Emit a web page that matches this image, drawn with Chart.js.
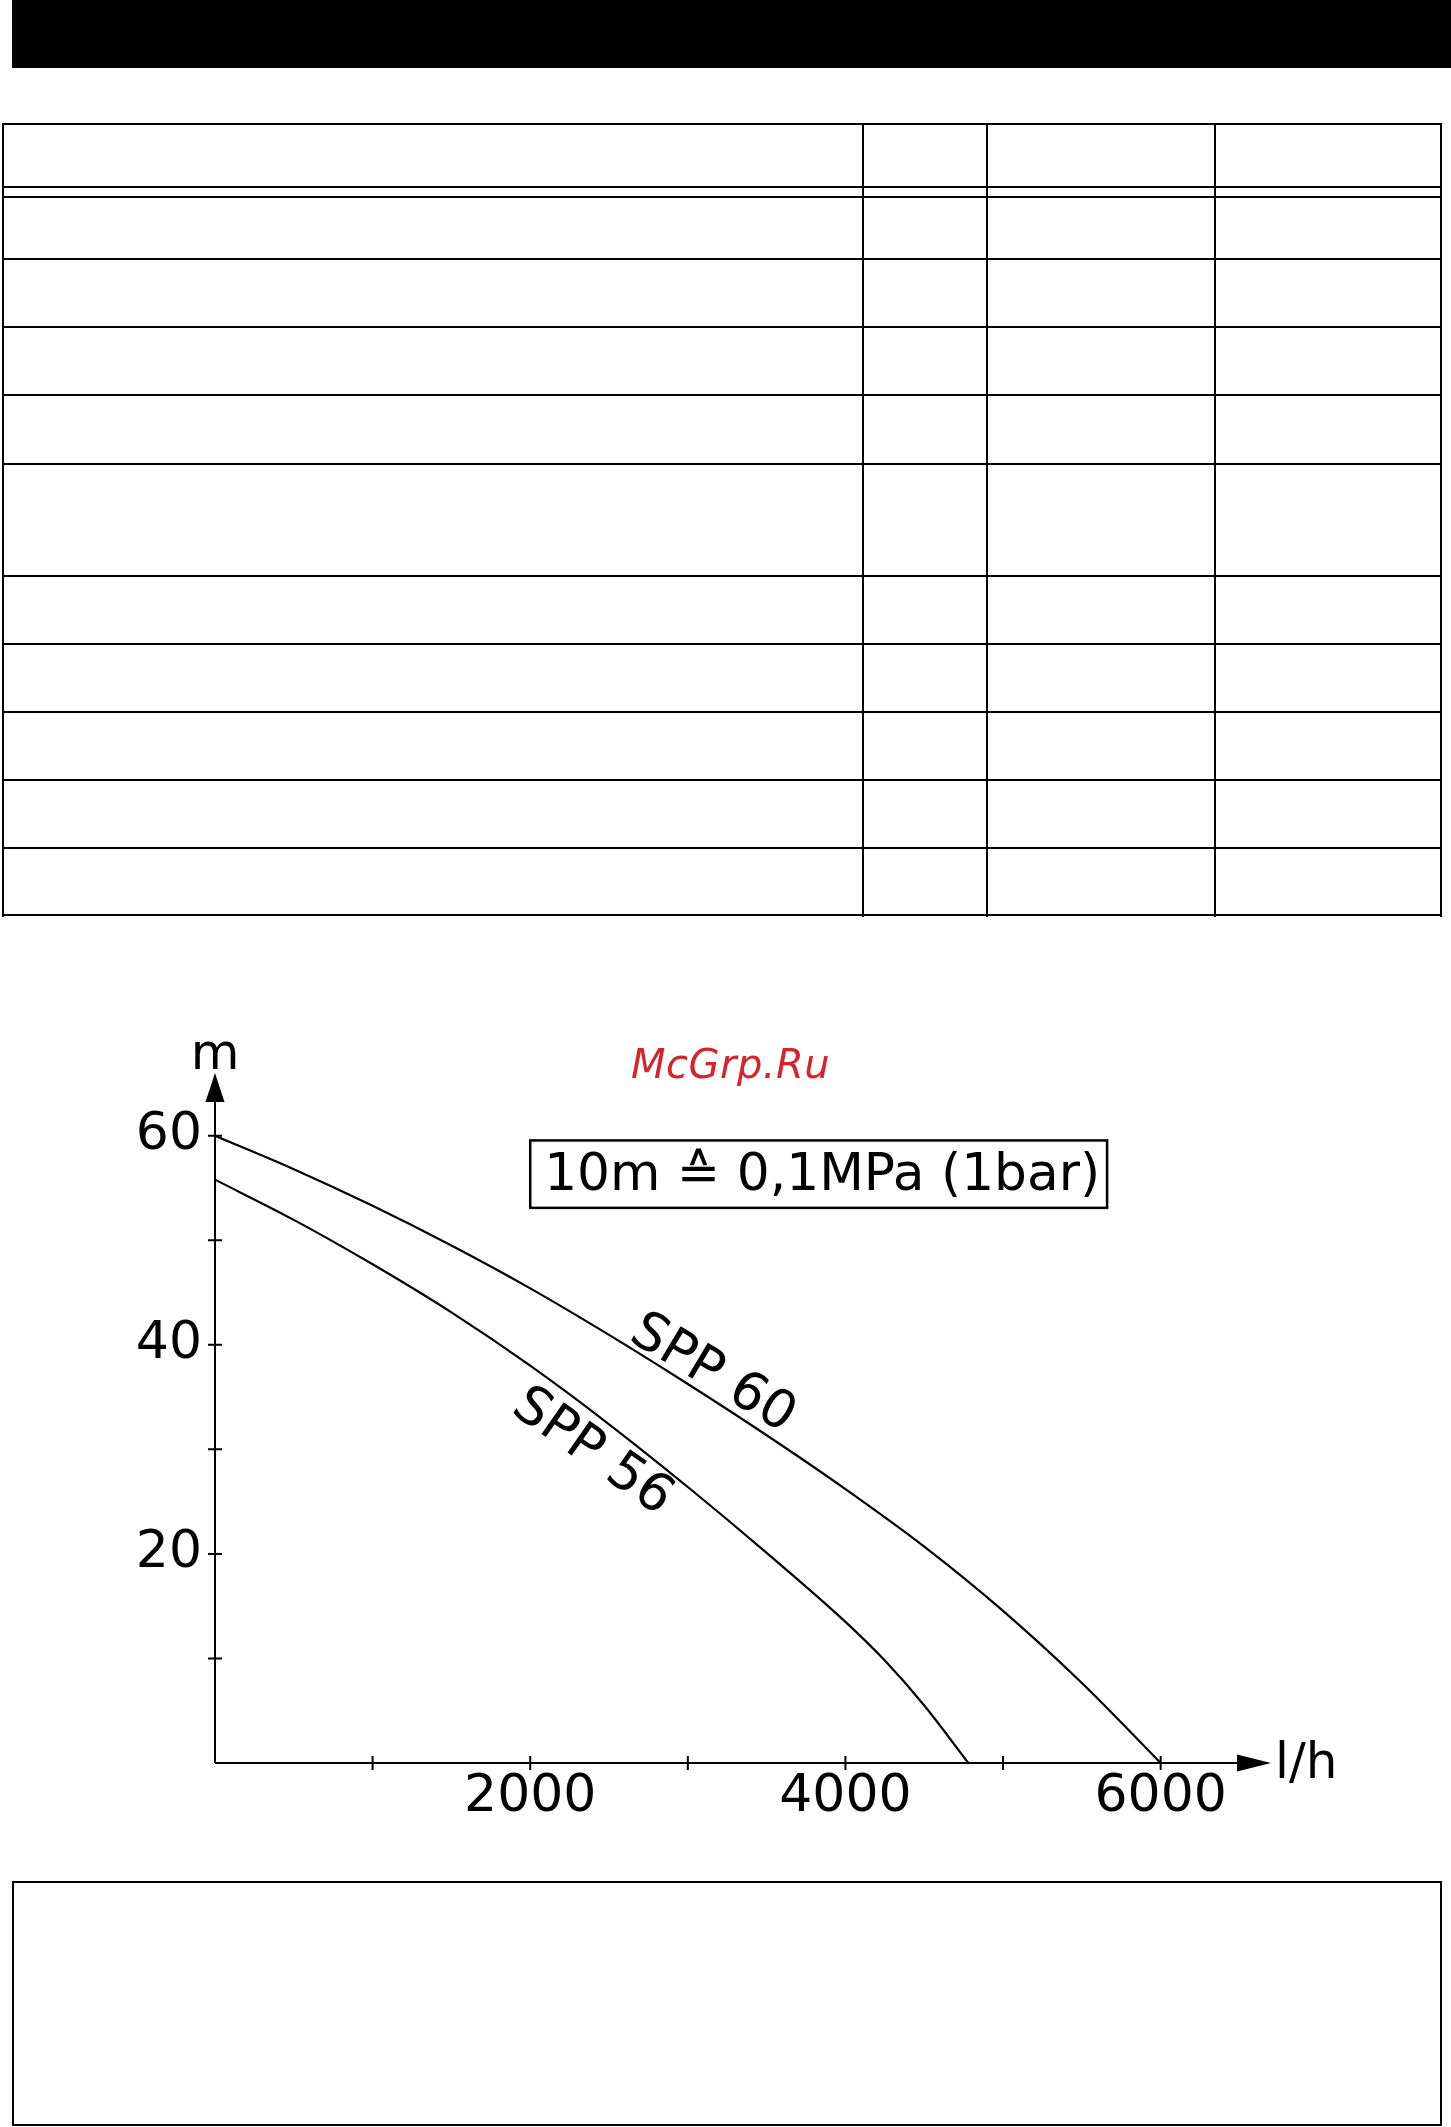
<!DOCTYPE html>
<html>
<head>
<meta charset="utf-8">
<script src="https://cdn.jsdelivr.net/npm/chart.js@4.4.1/dist/chart.umd.min.js"></script>
<style>
html,body{margin:0;padding:0;background:#fff;}
body{width:1451px;height:2127px;position:relative;overflow:hidden;}
#bar{position:absolute;left:12px;top:0;width:1439px;height:68px;background:#000;}
.h{position:absolute;height:2px;background:#000;}
.v{position:absolute;width:2px;background:#000;}
#foot{position:absolute;left:12px;top:1881px;width:1430px;height:245px;border:2.5px solid #000;box-sizing:border-box;}
#wrap{position:absolute;left:0;top:1000px;width:1451px;height:880px;}
</style>
</head>
<body>
<div id="bar"></div>
<div id="table"></div>
<div id="foot"></div>
<div id="wrap"><canvas id="c" width="1451" height="880"></canvas></div>
<script>
// ---- data ----
const seriesNames = ['SPP 60', 'SPP 56'];
const spp60Flow = [0, 500, 1000, 1500, 2000, 2500, 3000, 3500, 4000, 4500, 5000, 5500, 6000];
const spp60Head = [60, 56.8, 53.3, 49.5, 45.4, 40.95, 36.25, 31.35, 26.2, 20.7, 14.55, 7.65, 0];
const spp56Flow = [0, 500, 1000, 1500, 2000, 2500, 3000, 3500, 4000, 4250, 4500, 4780];
const spp56Head = [55.8, 51.95, 47.7, 43.1, 38.0, 32.4, 26.4, 20.1, 13.5, 9.8, 5.5, 0];
const xTickValues = [1000, 2000, 3000, 4000, 5000, 6000];
const xTickLabels = ['', '2000', '', '4000', '', '6000'];
const yTickValues = [10, 20, 30, 40, 50, 60];
const yTickLabels = ['', '20', '', '40', '', '60'];
const yAxisTitle = 'm';
const xAxisTitle = 'l/h';
const noteText = '10m \u2259 0,1MPa (1bar)';
const watermarkText = 'McGrp.Ru';

// ---- page frame (table without text) ----
const tbl = document.getElementById('table');
const rowLines = [124, 186.5, 196.5, 259, 327, 395, 463.5, 576, 644, 712, 780, 848, 915];
const colLines = [2, 862, 986, 1214, 1440];
rowLines.forEach(y => {
  const d = document.createElement('div');
  d.className = 'h';
  d.style.left = '2px'; d.style.width = '1440px'; d.style.top = (y - 1) + 'px';
  tbl.appendChild(d);
});
colLines.forEach(x => {
  const d = document.createElement('div');
  d.className = 'v';
  d.style.left = x + 'px'; d.style.top = '123px'; d.style.height = '794px';
  tbl.appendChild(d);
});

// ---- chart ----
const FONT = "'DejaVu Sans', 'Liberation Sans', sans-serif";
const toPts = (xs, ys) => xs.map((x, i) => ({x: x, y: ys[i]}));

const decor = {
  id: 'decor',
  afterDraw(chart) {
    const ctx = chart.ctx;
    const xs = chart.scales.x, ys = chart.scales.y;
    const x0 = xs.getPixelForValue(0), y0 = ys.getPixelForValue(0);
    const xEnd = xs.right, yTop = ys.top;
    ctx.save();
    ctx.strokeStyle = '#000';
    ctx.fillStyle = '#000';
    ctx.lineWidth = 2;
    // axes
    ctx.beginPath();
    ctx.moveTo(x0, y0); ctx.lineTo(x0, yTop + 20);
    ctx.moveTo(x0, y0); ctx.lineTo(xEnd - 25, y0);
    ctx.stroke();
    // arrows
    ctx.beginPath();
    ctx.moveTo(x0, yTop); ctx.lineTo(x0 - 9.5, yTop + 29); ctx.lineTo(x0 + 9.5, yTop + 29); ctx.closePath();
    ctx.fill();
    ctx.beginPath();
    ctx.moveTo(xEnd, y0); ctx.lineTo(xEnd - 34, y0 - 8.5); ctx.lineTo(xEnd - 34, y0 + 8.5); ctx.closePath();
    ctx.fill();
    // tick marks crossing the axes
    ctx.beginPath();
    yTickValues.forEach(v => { const p = ys.getPixelForValue(v); ctx.moveTo(x0 - 7, p); ctx.lineTo(x0 + 7, p); });
    xTickValues.forEach(v => { const p = xs.getPixelForValue(v); ctx.moveTo(p, y0 - 7); ctx.lineTo(p, y0 + 7); });
    ctx.stroke();
    // axis titles
    ctx.font = '50px ' + FONT;
    ctx.textBaseline = 'alphabetic';
    ctx.textAlign = 'center';
    ctx.fillText(yAxisTitle, x0, yTop - 4);
    ctx.textAlign = 'left';
    ctx.fillText(xAxisTitle, xEnd + 4, y0 + 15);
    // series labels along the curves
    const lab = [
      {t: seriesNames[0], x: 3173, y: 37.6, a: 31},
      {t: seriesNames[1], x: 2411, y: 30.1, a: 35}
    ];
    ctx.font = '53px ' + FONT;
    ctx.textAlign = 'center';
    lab.forEach(l => {
      ctx.save();
      ctx.translate(xs.getPixelForValue(l.x), ys.getPixelForValue(l.y));
      ctx.rotate(l.a * Math.PI / 180);
      ctx.fillText(l.t, 0, 53 * 0.36);
      ctx.restore();
    });
    // note box
    const bx1 = xs.getPixelForValue(2000), bx2 = xs.getPixelForValue(5660);
    const by1 = ys.getPixelForValue(59.55), by2 = ys.getPixelForValue(53.1);
    ctx.lineWidth = 2.5;
    ctx.strokeRect(bx1, by1, bx2 - bx1, by2 - by1);
    ctx.font = '51px ' + FONT;
    ctx.textAlign = 'left';
    const m = ctx.measureText(noteText);
    const ink = m.actualBoundingBoxRight + m.actualBoundingBoxLeft;
    const target = 547;
    ctx.save();
    ctx.translate(bx1 + 19, by1 + 49.5);
    ctx.scale(target / ink, 1);
    ctx.fillText(noteText, m.actualBoundingBoxLeft, 0);
    ctx.restore();
    // watermark
    ctx.fillStyle = '#d7242a';
    ctx.font = 'oblique 40px ' + FONT;
    ctx.textAlign = 'left';
    try { ctx.letterSpacing = '0.5px'; } catch (e) {}
    ctx.fillText(watermarkText, 631, 78);
    ctx.restore();
  }
};

new Chart(document.getElementById('c'), {
  type: 'line',
  data: {
    datasets: [
      {label: seriesNames[0], data: toPts(spp60Flow, spp60Head)},
      {label: seriesNames[1], data: toPts(spp56Flow, spp56Head)}
    ]
  },
  options: {
    responsive: false,
    devicePixelRatio: 1,
    animation: false,
    events: [],
    layout: {padding: {left: 0, right: 180, top: 73, bottom: 0}},
    elements: {
      line: {borderColor: '#000', borderWidth: 2.2, fill: false, cubicInterpolationMode: 'monotone'},
      point: {radius: 0}
    },
    plugins: {legend: {display: false}, tooltip: {enabled: false}},
    scales: {
      x: {
        type: 'linear', min: 0, max: 6700,
        afterBuildTicks: s => { s.ticks = xTickValues.map(v => ({value: v})); },
        afterFit: s => { s.height = 117; },
        ticks: {
          autoSkip: false, maxRotation: 0, padding: 3, color: '#000',
          font: {family: FONT, size: 52},
          callback: (v) => xTickLabels[xTickValues.indexOf(v)] || ''
        },
        grid: {display: false, drawTicks: false},
        border: {display: false}
      },
      y: {
        type: 'linear', min: 0, max: 66,
        afterBuildTicks: s => { s.ticks = yTickValues.map(v => ({value: v})); },
        afterFit: s => { s.width = 215; },
        ticks: {
          autoSkip: false, padding: 13, color: '#000',
          font: {family: FONT, size: 52},
          callback: (v) => yTickLabels[yTickValues.indexOf(v)] || ''
        },
        grid: {display: false, drawTicks: false},
        border: {display: false}
      }
    }
  },
  plugins: [decor]
});
</script>
</body>
</html>
